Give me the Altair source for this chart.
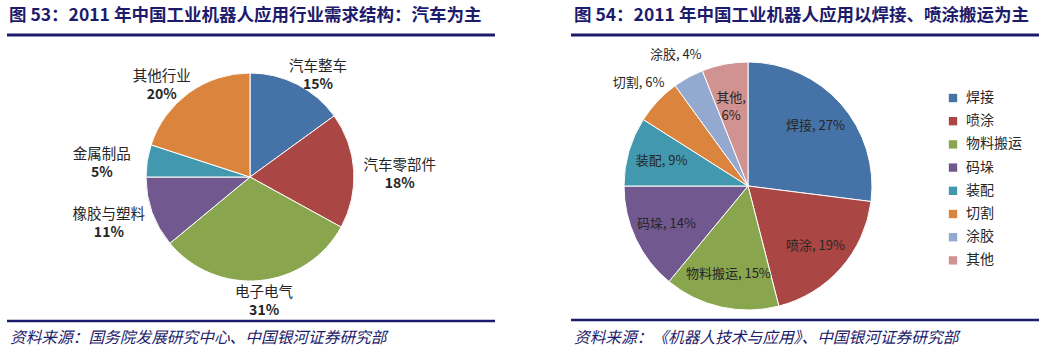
import altair as alt
import pandas as pd

# ---- data ----
left_cats = ["汽车整车", "汽车零部件", "电子电气", "橡胶与塑料", "金属制品", "其他行业"]
left_vals = [15, 18, 31, 11, 5, 20]
left_colors = ["#4572a7", "#aa4643", "#89a54e", "#71588f", "#4198af", "#db843d"]

right_cats = ["焊接", "喷涂", "物料搬运", "码垛", "装配", "切割", "涂胶", "其他"]
right_vals = [27, 19, 15, 14, 9, 6, 4, 6]
right_colors = ["#4572a7", "#aa4643", "#89a54e", "#71588f", "#4198af", "#db843d", "#93a9cf", "#d19392"]
outside_cats = ["切割", "涂胶"]

titles = ["图 53：2011 年中国工业机器人应用行业需求结构：汽车为主",
          "图 54：2011 年中国工业机器人应用以焊接、喷涂搬运为主"]
sources = ["资料来源：国务院发展研究中心、中国银河证券研究部",
           "资料来源：《机器人技术与应用》、中国银河证券研究部"]

FONT = "Noto Sans CJK SC"
NAVY = "#1d1b6b"
LABEL = "#262626"

one = pd.DataFrame({"k": [0]})

def text_at(txt, x, y, **kw):
    return alt.Chart(pd.DataFrame({"t": [txt]})).mark_text(
        align="left", baseline="middle", font=FONT, **kw
    ).encode(x=alt.value(x), y=alt.value(y), text="t:N")

def rule_at(x1, x2, y, w):
    return alt.Chart(one).mark_rule(color=NAVY, strokeWidth=w).encode(
        x=alt.value(x1), x2=alt.value(x2), y=alt.value(y))

# ---- left pie ----
ldf = pd.DataFrame({"cat": left_cats, "v": left_vals, "i": list(range(len(left_cats)))})
L_CX, L_CY = 250, 177
lbase = alt.Chart(ldf).encode(
    theta=alt.Theta("v:Q", stack=True),
    order=alt.Order("i:Q"),
    x=alt.value(L_CX), y=alt.value(L_CY),
)
l_arc = lbase.mark_arc(outerRadius=104, stroke="white", strokeWidth=1).encode(
    color=alt.Color("cat:N", scale=alt.Scale(domain=left_cats, range=left_colors), legend=None)
)
# outside labels on an ellipse around the pie (mid-angle of each slice)
RX, RY, LCY = 150, 120, 183
l_lab = alt.Chart(ldf).transform_joinaggregate(
    tot="sum(v)"
).transform_window(
    cum="sum(v)", sort=[alt.SortField("i")]
).transform_calculate(
    a="2*PI*(datum.cum - datum.v/2)/datum.tot",
    p="datum.v + '%'",
).transform_calculate(
    lx=f"{L_CX} + {RX}*sin(datum.a)",
    ly=f"{LCY} - {RY}*cos(datum.a)",
)
l_txt1 = l_lab.mark_text(dy=-9, font=FONT, fontSize=14.5, color=LABEL).encode(
    x=alt.X("lx:Q", scale=None), y=alt.Y("ly:Q", scale=None), text="cat:N")
l_txt2 = l_lab.mark_text(dy=9, font=FONT, fontSize=14, fontWeight="bold", color=LABEL).encode(
    x=alt.X("lx:Q", scale=None), y=alt.Y("ly:Q", scale=None), text="p:N")

# ---- right pie ----
rdf = pd.DataFrame({"cat": right_cats, "v": right_vals, "i": list(range(len(right_cats)))})
rbase = alt.Chart(rdf).encode(
    theta=alt.Theta("v:Q", stack=True),
    order=alt.Order("i:Q"),
    x=alt.value(748), y=alt.value(186),
)
r_arc = rbase.mark_arc(outerRadius=124, stroke="white", strokeWidth=1).encode(
    color=alt.Color("cat:N", scale=alt.Scale(domain=right_cats, range=right_colors),
                    legend=alt.Legend(title=None, orient="none", legendX=946, legendY=91,
                                      symbolType="square", symbolSize=70, symbolStrokeWidth=0,
                                      labelFont=FONT, labelFontSize=14, labelColor=LABEL,
                                      rowPadding=9.2, labelOffset=6))
)
outs = "[" + ",".join("'%s'" % c for c in outside_cats) + "]"
r_in = rbase.transform_calculate(
    lab=f"indexof({outs}, datum.cat) >= 0 ? '' : (datum.cat == '其他' ? datum.cat + ',\\n' + datum.v + '%' : datum.cat + ', ' + datum.v + '%')"
).mark_text(radius=90, font=FONT, fontSize=13, color=LABEL, lineBreak="\n", lineHeight=18).encode(text="lab:N")
r_out = rbase.transform_calculate(
    lab=f"indexof({outs}, datum.cat) >= 0 ? datum.cat + ', ' + datum.v + '%' : ''"
).mark_text(radius=150, font=FONT, fontSize=13, color=LABEL).encode(text="lab:N")

# ---- frame: titles, rules, sources ----
frame = [
    text_at(titles[0], 9, 16, fontSize=17.5, fontWeight="bold", color=NAVY),
    text_at(titles[1], 574, 16, fontSize=17.5, fontWeight="bold", color=NAVY),
    rule_at(7, 495, 35, 3),
    rule_at(571, 1039, 35, 3),
    rule_at(7, 495, 321, 2.5),
    rule_at(571, 1039, 320, 2.5),
    text_at(sources[0], 10, 338, fontSize=15.7, fontStyle="italic", color=NAVY),
    text_at(sources[1], 574, 338, fontSize=15.7, fontStyle="italic", color=NAVY),
]

chart = alt.layer(
    l_arc, l_txt1, l_txt2, r_arc, r_in, r_out, *frame
).resolve_scale(
    color="independent", theta="independent"
).properties(
    width=1048, height=354, padding=0,
    autosize=alt.AutoSizeParams(type="none"),
    background="white",
).configure_view(stroke=None)

chart.save("out.html", embed_options={"renderer": "svg", "actions": False})
